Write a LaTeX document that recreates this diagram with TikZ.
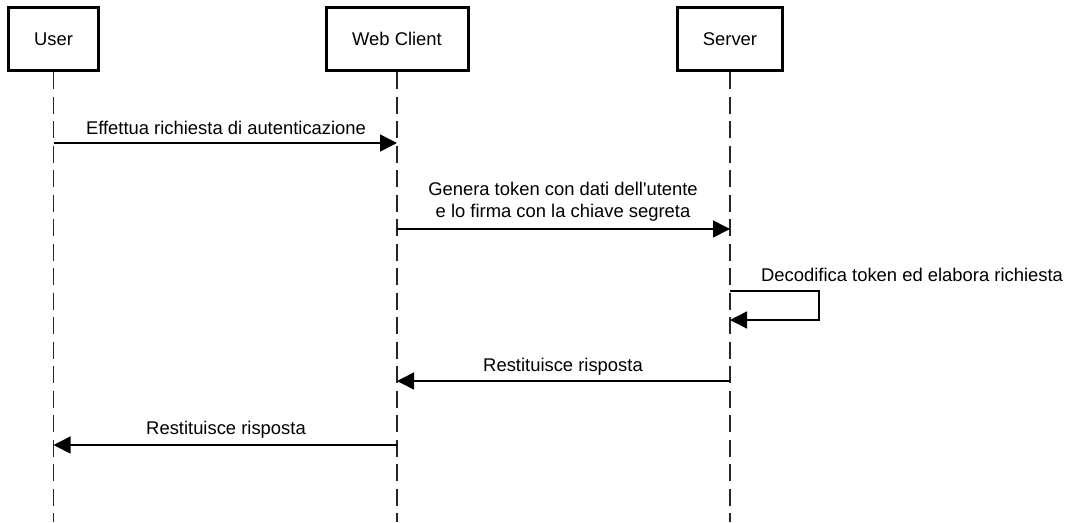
\documentclass[tikz,border=0pt]{standalone}
\usepackage{fontspec}
\setmainfont{Liberation Sans}
\usetikzlibrary{arrows.meta}
\begin{document}
\begin{tikzpicture}[x=1pt,y=-1pt,
  font=\fontsize{18.4}{22}\selectfont,
  actor/.style={draw=black,line width=3pt,fill=white,minimum height=63pt,inner sep=0pt},
  lifeline/.style={line width=1.6pt,draw=black!85,dash pattern=on 17pt off 7.5pt},
  msg/.style={line width=1.6pt,draw=black,-{Triangle[length=17pt,width=17pt]}},
  lbl/.style={inner sep=0pt,align=center,text=black}]
\useasboundingbox (0,0) rectangle (1067,522);
% participants
\node[actor,minimum width=90pt] (user) at (53.5,39) {User};
\node[actor,minimum width=142pt] (web) at (397,39) {Web Client};
\node[actor,minimum width=105pt] (srv) at (730,39) {Server};
% lifeline ends
\coordinate (userend) at (53.5,522);
\coordinate (webend) at (397,522);
\coordinate (srvend) at (730,522);
\draw[lifeline] (user.south) -- (userend);
\draw[lifeline] (web.south) -- (webend);
\draw[lifeline] (srv.south) -- (srvend);
% message anchors on the lifelines
\coordinate (u1) at (53.5,143); \coordinate (w1) at (397,143);
\coordinate (w2) at (397,229); \coordinate (s2) at (730,229);
\coordinate (s3a) at (730,291); \coordinate (s3b) at (730,320);
\coordinate (s4) at (730,381); \coordinate (w4) at (397,381);
\coordinate (w5) at (397,445); \coordinate (u5) at (53.5,445);
% messages
\draw[msg] (u1) -- (w1);
\node[lbl] (l1) at (226,128) {Effettua richiesta di autenticazione};
\draw[msg] (w2) -- (s2);
\node[lbl] (l2) at (563,202) {Genera token con dati dell\textquotesingle utente\\e lo firma con la chiave segreta};
\draw[msg] (s3a) -- ++(89,0) |- (s3b);
\node[lbl,anchor=west] (l3) at (761,275) {Decodifica token ed elabora richiesta};
\draw[msg] (s4) -- (w4);
\node[lbl] (l4) at (563,367) {Restituisce risposta};
\draw[msg] (w5) -- (u5);
\node[lbl] (l5) at (226,430) {Restituisce risposta};
\end{tikzpicture}
\end{document}
